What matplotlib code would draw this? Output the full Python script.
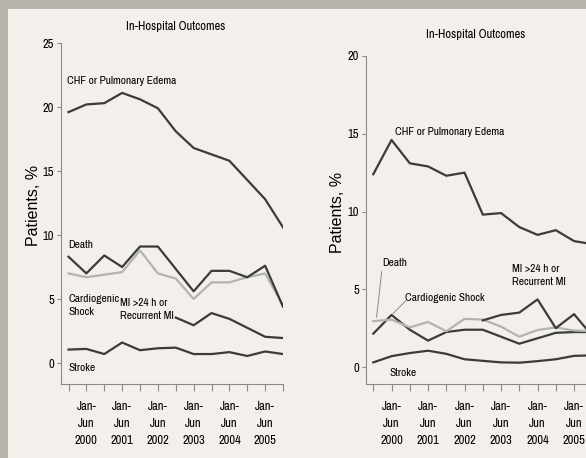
import numpy as np
import matplotlib
matplotlib.use("Agg")
import matplotlib.pyplot as plt
from matplotlib.patches import Rectangle

nan = np.nan

# half-year periods, Jul-Dec 1999 .. Jul-Dec 2005
periods = list(range(13))
tick_labels = ["", "Jan-\nJun\n2000", "", "Jan-\nJun\n2001", "", "Jan-\nJun\n2002", "",
               "Jan-\nJun\n2003", "", "Jan-\nJun\n2004", "", "Jan-\nJun\n2005", ""]

# left panel
chf_left = [19.6, 20.2, 20.3, 21.1, 20.6, 19.9, 18.1, 16.8, 16.3, 15.8, 14.3, 12.8, 10.6]
death_left = [8.3, 7.0, 8.4, 7.5, 9.1, 9.1, 7.35, 5.6, 7.2, 7.2, 6.7, 7.6, 4.4]
shock_left = [7.0, 6.7, 6.9, 7.1, 8.8, 7.0, 6.6, 5.0, 6.3, 6.3, 6.7, 7.0, 4.5]
mi_left = [nan, nan, nan, nan, nan, nan, 3.55, 2.95, 3.9, 3.45, 2.75, 2.05, 1.95]
stroke_left = [1.05, 1.1, 0.7, 1.6, 1.0, 1.15, 1.2, 0.7, 0.7, 0.85, 0.55, 0.9, 0.7]

# right panel
chf_right = [12.4, 14.6, 13.1, 12.9, 12.3, 12.5, 9.8, 9.9, 9.0, 8.5, 8.8, 8.1, 7.9]
death_right = [2.95, 3.05, 2.55, 2.9, 2.3, 3.1, 3.05, 2.6, 1.95, 2.38, 2.55, 2.35, 2.3]
shock_right = [2.15, 3.35, 2.4, 1.7, 2.25, 2.4, 2.4, 1.95, 1.5, 1.85, 2.2, 2.25, 2.25]
mi_right = [nan, nan, nan, nan, nan, nan, 3.0, 3.35, 3.5, 4.35, 2.5, 3.4, 2.0]
stroke_right = [0.3, 0.7, 0.9, 1.05, 0.85, 0.5, 0.4, 0.3, 0.28, 0.38, 0.5, 0.72, 0.75]

plt.rcParams['font.family'] = ['Archivo Narrow', 'Liberation Sans', 'DejaVu Sans']

dark = '#3b3b3b'
light = '#b3b3b3'
axis_col = '#8a8a8a'

fig = plt.figure(figsize=(5.86, 4.58), dpi=100)
fig.patch.set_facecolor('#b8b3ab')
fig.patches.append(Rectangle((8 / 586, 0), 1, 1 - 9 / 458, transform=fig.transFigure,
                             facecolor='#f3f0ec', edgecolor='none', zorder=-5))


def style(ax, ymax, ylo):
    ax.set_facecolor('none')
    ax.set_xlim(-0.42, 12)
    ax.set_ylim(ylo, ymax)
    for s in ['top', 'right']:
        ax.spines[s].set_visible(False)
    for s in ['left', 'bottom']:
        ax.spines[s].set_color(axis_col)
        ax.spines[s].set_linewidth(0.8)
    ax.spines['left'].set_bounds(ylo, ymax)
    ax.set_yticks(np.arange(0, ymax + 1, 5))
    ax.set_xticks(periods)
    ax.set_xticklabels(tick_labels, fontsize=9, linespacing=1.7, va='top')
    ax.tick_params(axis='y', length=3, width=0.8, color=axis_col, pad=2, labelsize=9)
    ax.tick_params(axis='x', length=5, width=0.8, color=axis_col, pad=7)


def draw(ax, chf, death, shock, mi, stroke, death_col, shock_col):
    ax.plot(periods, chf, color=dark, lw=1.6)
    ax.plot(periods, shock, color=shock_col, lw=1.6)
    ax.plot(periods, death, color=death_col, lw=1.6)
    ax.plot(periods, mi, color=dark, lw=1.6)
    ax.plot(periods, stroke, color=dark, lw=1.6)


# left axes
ax1 = fig.add_axes([61 / 586, 1 - 384 / 458, 222 / 586, (384 - 43) / 458])
style(ax1, 25, -1.64)
draw(ax1, chf_left, death_left, shock_left, mi_left, stroke_left, dark, light)
tk = dict(fontsize=8.2, va='center', ha='left')
ax1.text(-0.06, 22.0, "CHF or Pulmonary Edema", **tk)
ax1.text(0.0, 9.2, "Death", **tk)
ax1.text(0.0, 4.5, "Cardiogenic\nShock", linespacing=1.4, **tk)
ax1.text(2.9, 4.2, "MI >24 h or\nRecurrent MI", linespacing=1.4, **tk)
ax1.text(0.0, -0.4, "Stroke", **tk)

# right axes (runs past the right edge of the picture)
ax2 = fig.add_axes([366 / 586, 1 - 384 / 458, (592.3 - 366) / 586, (384 - 56) / 458])
style(ax2, 20, -1.09)
ax2.set_xlim(-0.4, 12)
draw(ax2, chf_right, death_right, shock_right, mi_right, stroke_right, light, dark)
ax2.text(1.19, 15.1, "CHF or Pulmonary Edema", **tk)
ax2.text(0.48, 6.7, "Death", **tk)
ax2.text(1.73, 4.44, "Cardiogenic Shock", **tk)
ax2.text(7.6, 5.9, "MI >24 h or\nRecurrent MI", linespacing=1.4, **tk)
ax2.text(0.91, -0.39, "Stroke", **tk)
ax2.plot([0.46, 0.18], [6.13, 3.2], color=axis_col, lw=0.7)
ax2.plot([1.78, 1.09], [4.26, 3.45], color=axis_col, lw=0.7)

fig.text(176 / 586, 1 - 27 / 458, "In-Hospital Outcomes", fontsize=9, ha='center', va='center')
fig.text(476 / 586, 1 - 35 / 458, "In-Hospital Outcomes", fontsize=9, ha='center', va='center')
ylab = dict(rotation=90, fontsize=11.5, ha='center', va='center',
            family=['Liberation Sans', 'DejaVu Sans'])
fig.text(34 / 586, 1 - 205 / 458, "Patients, %", **ylab)
fig.text(337 / 586, 1 - 212 / 458, "Patients, %", **ylab)

fig.savefig('out.png', dpi=100, facecolor=fig.get_facecolor())
